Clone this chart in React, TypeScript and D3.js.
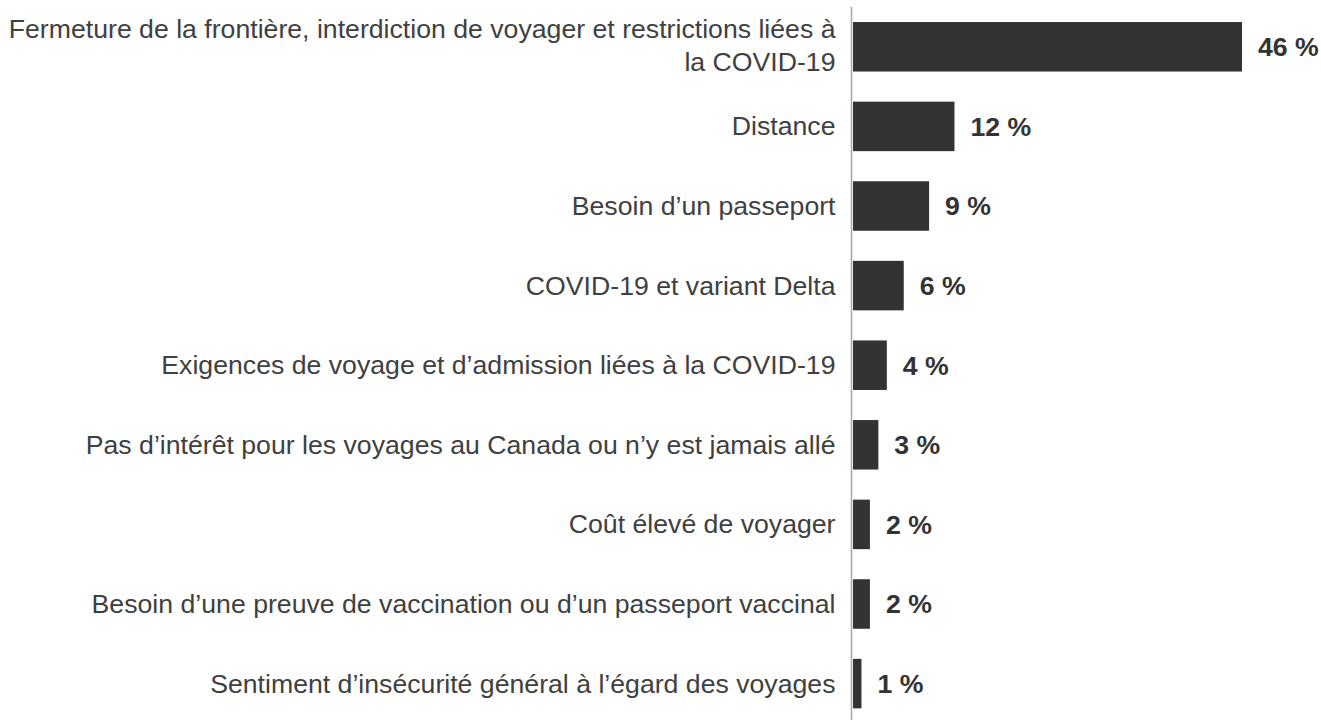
import React from "react";
import * as d3 from "d3";

const categories: string[][] = [
  ["Fermeture de la frontière, interdiction de voyager et restrictions liées à", "la COVID-19"],
  ["Distance"],
  ["Besoin d’un passeport"],
  ["COVID-19 et variant Delta"],
  ["Exigences de voyage et d’admission liées à la COVID-19"],
  ["Pas d’intérêt pour les voyages au Canada ou n’y est jamais allé"],
  ["Coût élevé de voyager"],
  ["Besoin d’une preuve de vaccination ou d’un passeport vaccinal"],
  ["Sentiment d’insécurité général à l’égard des voyages"],
];
const values: number[] = [46, 12, 9, 6, 4, 3, 2, 2, 1];
const valueLabels: string[] = ["46 %", "12 %", "9 %", "6 %", "4 %", "3 %", "2 %", "2 %", "1 %"];

const W = 1321;
const H = 720;
const FONT = "Arial, 'Liberation Sans', Helvetica, sans-serif";

export default function App() {
  const keys = categories.map((_, i) => String(i));
  const y = d3
    .scaleBand<string>()
    .domain(keys)
    .range([7, 7 + 9 * 79.6])
    .paddingInner(0.378)
    .paddingOuter(0.189);
  const x = d3.scaleLinear().domain([0, 46]).range([853, 1242]);
  const axisX = 851.5;
  const labelX = 835.5;
  const textColor = "#404040";
  const barColor = "#333333";

  return (
    <svg
      width={W}
      height={H}
      style={{ position: "absolute", left: 0, top: 0, background: "#fff" }}
      fontFamily={FONT}
    >
      {keys.map((k, i) => {
        const y0 = y(k)!;
        const bw = y.bandwidth();
        const cy = y0 + bw / 2;
        const lines = categories[i];
        return (
          <g key={k}>
            <rect x={x(0)} y={y0} width={x(values[i]) - x(0)} height={bw} fill={barColor} />
            <text
              x={x(values[i]) + 16}
              y={cy + 9.3}
              fontSize={26.67}
              fontWeight="bold"
              fill={barColor}
            >
              {valueLabels[i]}
            </text>
            {lines.length === 1 ? (
              <text x={labelX} y={cy + 9} textAnchor="end" fontSize={26.67} fill={textColor}>
                {lines[0]}
              </text>
            ) : (
              <text textAnchor="end" fontSize={26.67} fill={textColor}>
                <tspan x={labelX} y={cy - 8.5}>{lines[0]}</tspan>
                <tspan x={labelX} y={cy + 24.3}>{lines[1]}</tspan>
              </text>
            )}
          </g>
        );
      })}
      <line x1={axisX} x2={axisX} y1={7} y2={H} stroke="#a6a6a6" strokeWidth={1.5} />
    </svg>
  );
}
